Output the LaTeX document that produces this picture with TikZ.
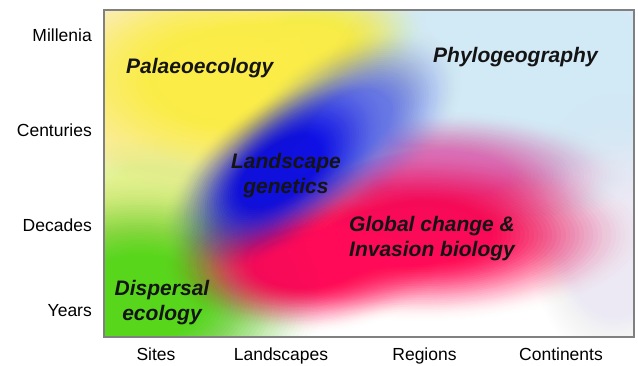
\documentclass[tikz,border=0pt]{standalone}
\usepackage{fontspec}
\setmainfont{Liberation Sans}

\definecolor{skyblue}{HTML}{D2E9F6}
\definecolor{lavender}{HTML}{ECE8F4}
\definecolor{paleyellow}{HTML}{FAF4B0}
\definecolor{sunyellow}{HTML}{FFEC48}
\definecolor{palegreen}{HTML}{E2F28C}
\definecolor{leafgreen}{HTML}{58D61C}
\definecolor{hotred}{HTML}{FF0A58}
\definecolor{orchid}{HTML}{E070B8}
\definecolor{deepblue}{HTML}{1010E4}
\definecolor{haloblue}{HTML}{6878F0}

% coverage of a blob at relative radius #1: solid core, smoothstep rim
\pgfmathdeclarefunction{blobcover}{1}{%
  \pgfmathparse{max(0,min(1,(#1-0.25)/0.75))}%
  \let\blobt\pgfmathresult
  \pgfmathparse{0.97*(1-\blobt*\blobt*(3-2*\blobt))}%
}

% soft blob: concentric translucent rings whose opacities stack up
% to the coverage profile above
% #1 colour, #2 centre, #3 x-radius, #4 y-radius, #5 tilt
\newcommand\softblob[5]{%
  \foreach \k in {1,...,49}{%
    \pgfmathsetmacro\blobin{blobcover(\k/50)}%
    \pgfmathsetmacro\blobout{blobcover((\k+1)/50)}%
    \pgfmathsetmacro\blobop{1-(1-\blobin)/(1-\blobout)}%
    \fill[#1, fill opacity=\blobop, rotate around={#5:#2}]
      #2 ellipse ({#3*\k/50} and {#4*\k/50});
  }%
}

\begin{document}
\begin{tikzpicture}[x=1pt,y=-1pt,
  axislab/.style={font=\fontsize{17.5}{20}\selectfont, inner sep=0pt},
  field/.style={font=\fontsize{21}{25}\selectfont\bfseries\itshape, text=black!92, inner sep=0pt}]
\useasboundingbox (0,0) rectangle (638,365);

% colour field inside the frame
\begin{scope}
  \clip (104,10) rectangle (634,337);
  \fill[white] (104,10) rectangle (634,337);
  \softblob{skyblue}{(520,80)}{300}{190}{0}
  \softblob{lavender}{(615,230)}{90}{140}{0}
  \softblob{paleyellow}{(180,110)}{200}{190}{0}
  \softblob{sunyellow}{(232,78)}{220}{125}{0}
  \softblob{sunyellow}{(295,55)}{140}{65}{20}
  \softblob{palegreen}{(150,215)}{130}{80}{0}
  \softblob{leafgreen}{(140,300)}{190}{125}{0}
  \softblob{orchid}{(440,175)}{190}{65}{0}
  \softblob{hotred}{(420,235)}{228}{88}{0}
  \softblob{hotred}{(300,265)}{140}{70}{0}
  \softblob{haloblue}{(345,128)}{135}{80}{35}
  \softblob{deepblue}{(276,174)}{135}{72}{38}
\end{scope}
\draw[draw=black!50, line width=1.1pt] (104,10) rectangle (634,337);

% time scale
\node[axislab, anchor=base east] (mil) at (92,41.7) {Millenia};
\node[axislab, anchor=base east] (cen) at (92,136.7) {Centuries};
\node[axislab, anchor=base east] (dec) at (92,231.7) {Decades};
\node[axislab, anchor=base east] (yrs) at (92,316.7) {Years};

% spatial scale
\node[axislab, anchor=base] (sit) at (156,360) {Sites};
\node[axislab, anchor=base] (lan) at (281,360) {Landscapes};
\node[axislab, anchor=base] (reg) at (424.5,360) {Regions};
\node[axislab, anchor=base] (con) at (561,360) {Continents};

% research fields
\node[field, anchor=base west] (pal) at (126,73.3) {Palaeoecology};
\node[field, anchor=base west] (phy) at (433,62.7) {Phylogeography};
\node[field, anchor=base, align=center] (lgen) at (286,193.3) {Landscape\\genetics};
\node[field, anchor=base west, align=left] (glob) at (349,256.7) {Global change \&\\Invasion biology};
\node[field, anchor=base, align=center] (disp) at (162,320) {Dispersal\\ecology};
\end{tikzpicture}
\end{document}
